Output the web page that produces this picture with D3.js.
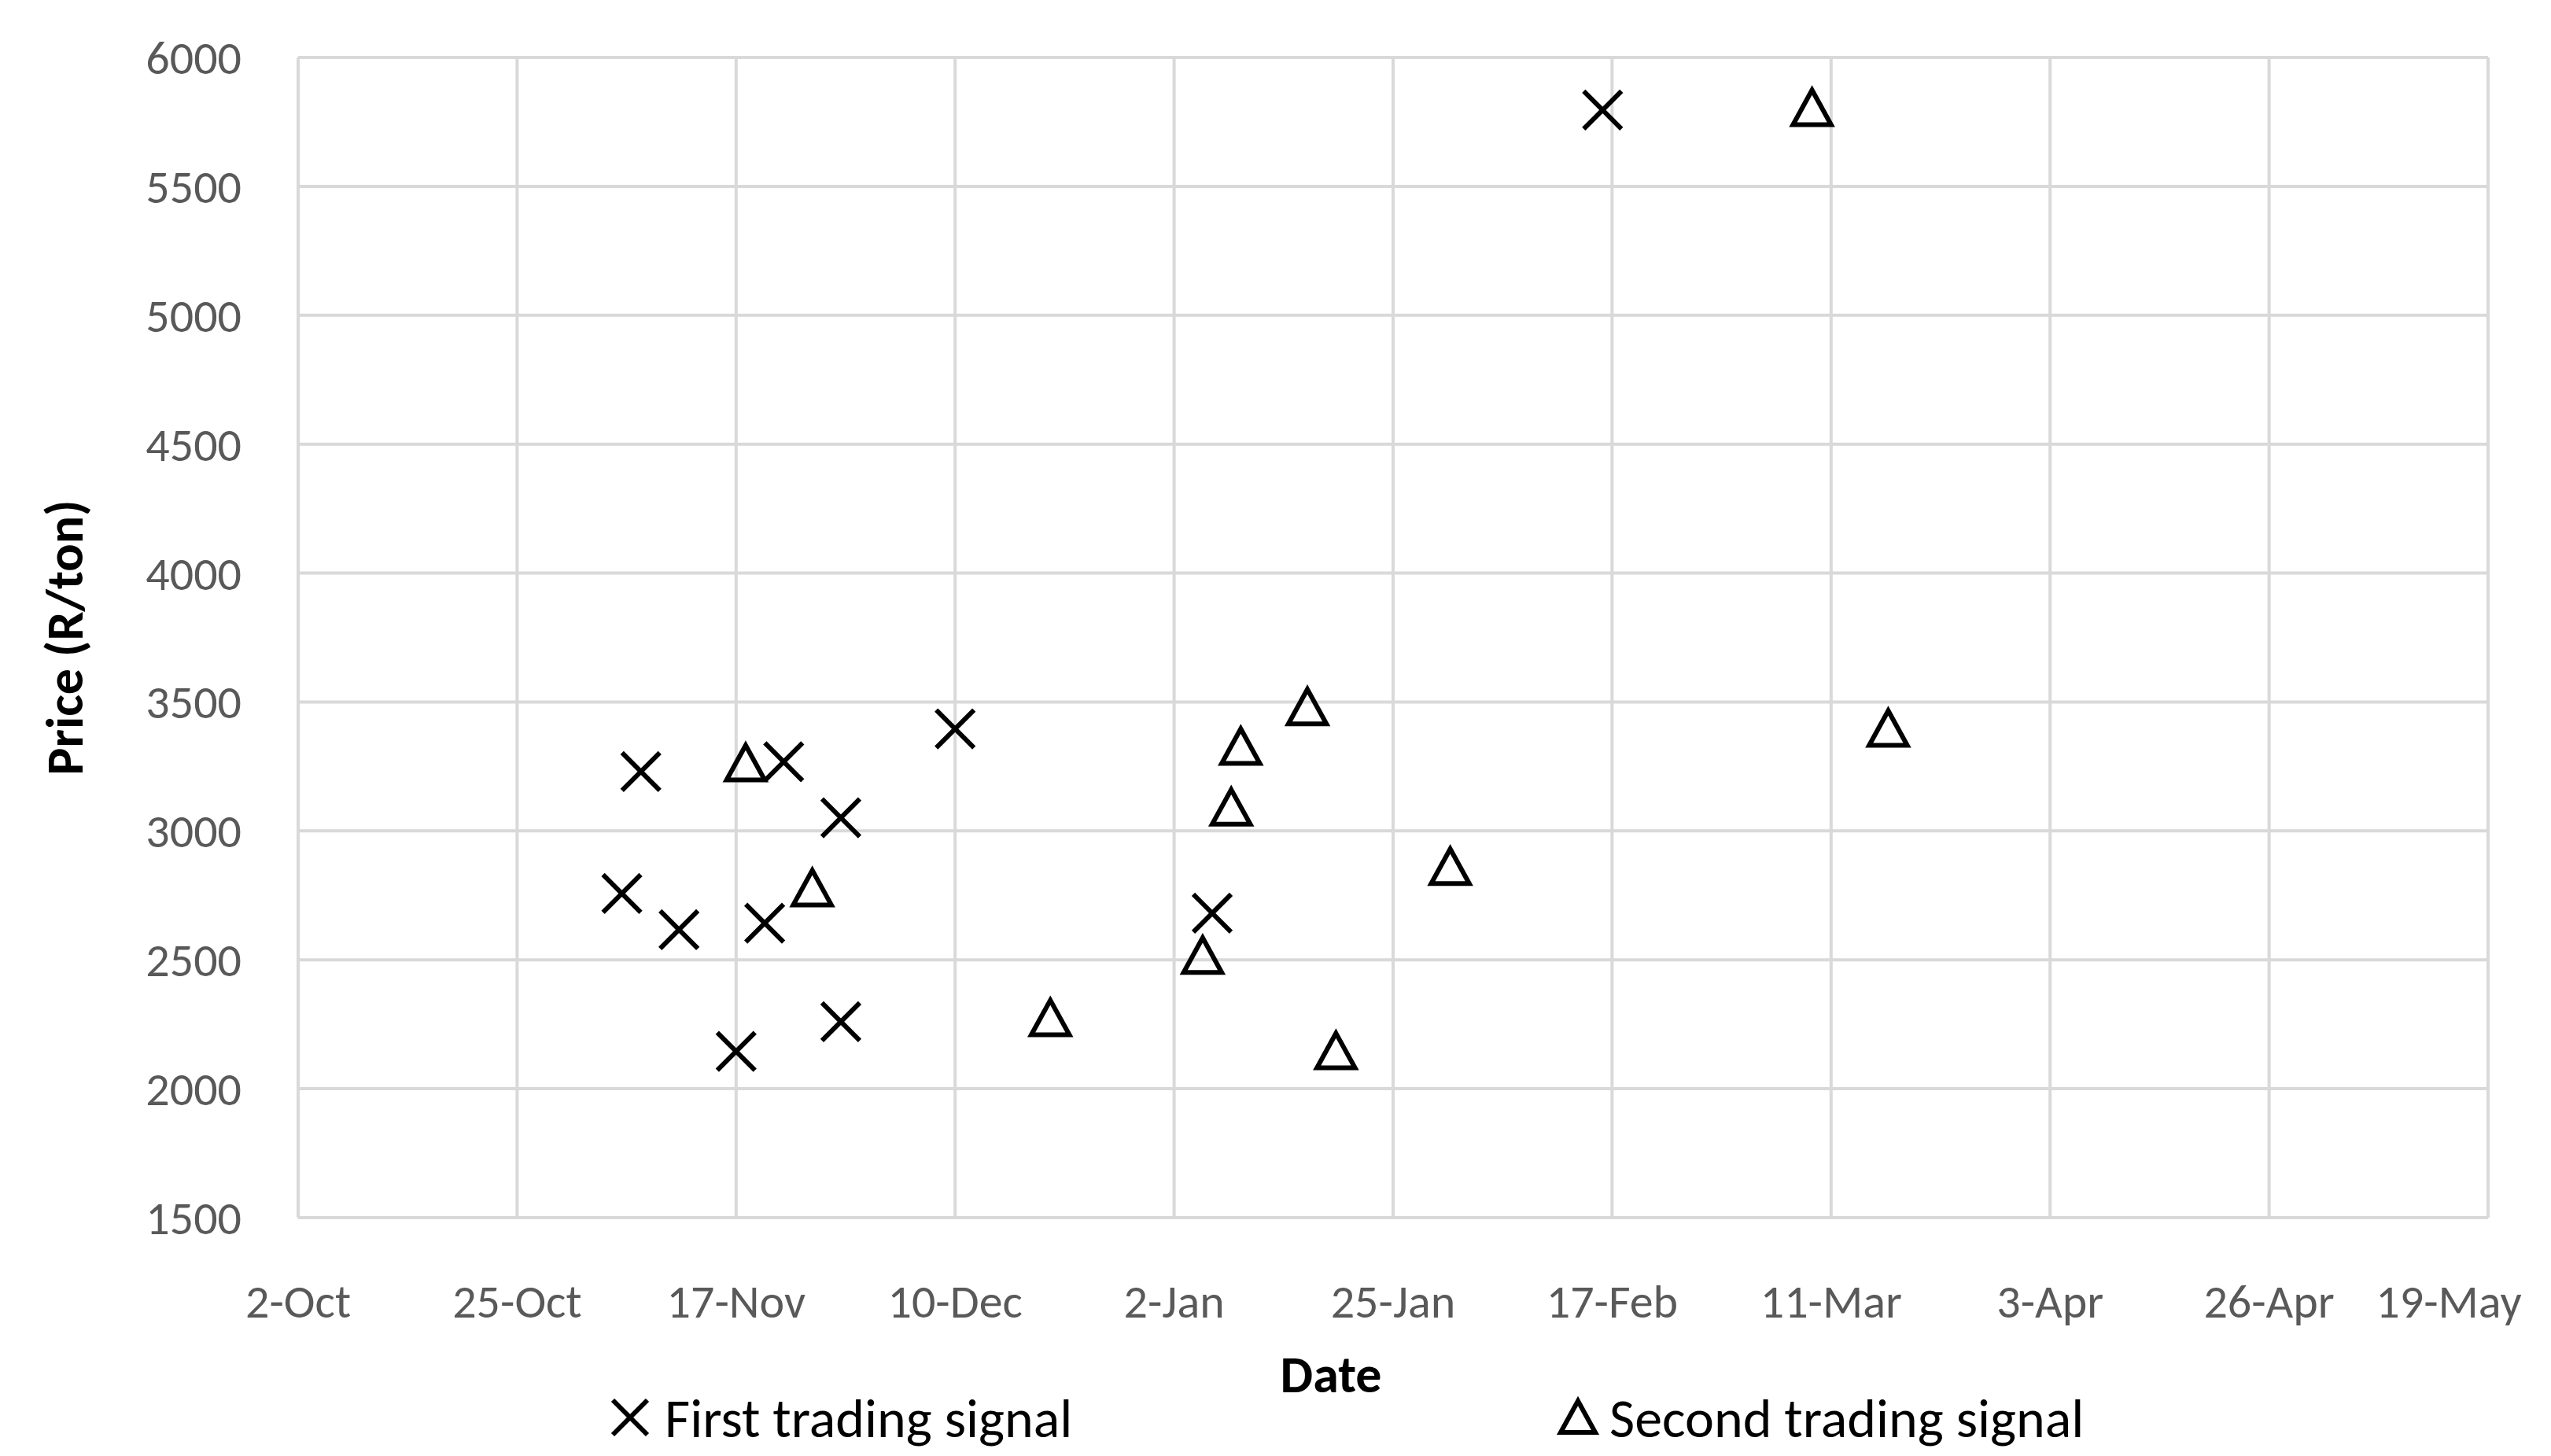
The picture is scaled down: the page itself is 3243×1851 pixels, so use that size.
<!DOCTYPE html>
<html>
<head>
<meta charset="utf-8">
<script src="https://cdn.jsdelivr.net/npm/d3@7"></script>
<style>
  body { margin: 0; background: #fff; }
  text { font-family: Calibri, Carlito, "Liberation Sans", "Open Sans", sans-serif; }
</style>
</head>
<body>
<svg id="chart" width="3243" height="1851"></svg>
<script>
// data
var firstDates = ["2015-11-05", "2015-11-07", "2015-11-11", "2015-11-17", "2015-11-20", "2015-11-22",
                  "2015-11-28", "2015-11-28", "2015-12-10", "2016-01-06", "2016-02-16"];
var firstPrices = [2757, 3230, 2617, 2145, 2642, 3268, 3051, 2260, 3396, 2681, 5796];
var secondDates = ["2015-11-18", "2015-11-25", "2015-12-20", "2016-01-05", "2016-01-08", "2016-01-09",
                   "2016-01-16", "2016-01-19", "2016-01-31", "2016-03-09", "2016-03-17"];
var secondPrices = [3255, 2770, 2266, 2508, 3083, 3319, 3472, 2138, 2853, 5796, 3389];
var xTickLabels = ["2-Oct", "25-Oct", "17-Nov", "10-Dec", "2-Jan", "25-Jan", "17-Feb", "11-Mar", "3-Apr", "26-Apr", "19-May"];
var yTicks = [1500, 2000, 2500, 3000, 3500, 4000, 4500, 5000, 5500, 6000];

var parse = d3.timeParse("%Y-%m-%d");
var start = parse("2015-10-02");
var xTicks = xTickLabels.map(function(d, i) { return d3.timeDay.offset(start, 23 * i); });

var svg = d3.select("#chart");
var plotLeft = 379, plotRight = 3163, plotTop = 73, plotBottom = 1548;

var x = d3.scaleTime().domain([xTicks[0], xTicks[xTicks.length - 1]]).range([plotLeft, plotRight]);
var y = d3.scaleLinear().domain([1500, 6000]).range([plotBottom, plotTop]);

// gridlines
svg.append("g").selectAll("line").data(yTicks).enter().append("line")
    .attr("x1", plotLeft).attr("x2", plotRight)
    .attr("y1", function(d) { return y(d); }).attr("y2", function(d) { return y(d); })
    .attr("stroke", "#d9d9d9").attr("stroke-width", 4);
svg.append("g").selectAll("line").data(xTicks).enter().append("line")
    .attr("y1", plotTop).attr("y2", plotBottom)
    .attr("x1", function(d) { return x(d); }).attr("x2", function(d) { return x(d); })
    .attr("stroke", "#d9d9d9").attr("stroke-width", 4);

// tick labels
svg.append("g").selectAll("text").data(yTicks).enter().append("text")
    .attr("x", 307).attr("y", function(d) { return y(d); })
    .attr("dy", "0.35em").attr("text-anchor", "end")
    .attr("font-size", 60).attr("fill", "#595959")
    .text(function(d) { return d; });
svg.append("g").selectAll("text").data(xTicks).enter().append("text")
    .attr("x", function(d, i) { return i === xTicks.length - 1 ? x(d) - 50 : x(d); }).attr("y", 1675)
    .attr("text-anchor", "middle")
    .attr("font-size", 60).attr("fill", "#595959")
    .text(function(d, i) { return xTickLabels[i]; });

// axis titles
svg.append("text").attr("x", 1692).attr("y", 1770).attr("text-anchor", "middle")
    .attr("font-size", 66).attr("font-weight", "bold").text("Date");
svg.append("text").attr("transform", "translate(105," + ((plotTop + plotBottom) / 2) + ") rotate(-90)")
    .attr("text-anchor", "middle").attr("font-size", 66).attr("font-weight", "bold")
    .text("Price (R/ton)");

function cross(g, cx, cy, s) {
    g.append("path")
        .attr("d", "M" + (cx - s) + "," + (cy - s) + "L" + (cx + s) + "," + (cy + s) +
                   "M" + (cx - s) + "," + (cy + s) + "L" + (cx + s) + "," + (cy - s))
        .attr("stroke", "#000").attr("stroke-width", 6).attr("fill", "none");
}
function tri(g, cx, cy, s) {
    g.append("path")
        .attr("d", "M" + cx + "," + (cy - s * 1.15) + "L" + (cx + s * 1.1) + "," + (cy + s * 0.85) +
                   "L" + (cx - s * 1.1) + "," + (cy + s * 0.85) + "Z")
        .attr("stroke", "#000").attr("stroke-width", 6).attr("fill", "none");
}

var marks = svg.append("g");
firstDates.forEach(function(d, i) { cross(marks, x(parse(d)), y(firstPrices[i]), 24); });
secondDates.forEach(function(d, i) { tri(marks, x(parse(d)), y(secondPrices[i]), 22); });

// legend
cross(svg, 801, 1802, 22);
svg.append("text").attr("x", 845).attr("y", 1802).attr("dy", "0.35em")
    .attr("font-size", 70).text("First trading signal");
tri(svg, 2006, 1804, 20);
svg.append("text").attr("x", 2046).attr("y", 1802).attr("dy", "0.35em")
    .attr("font-size", 70).text("Second trading signal");
</script>
</body>
</html>
